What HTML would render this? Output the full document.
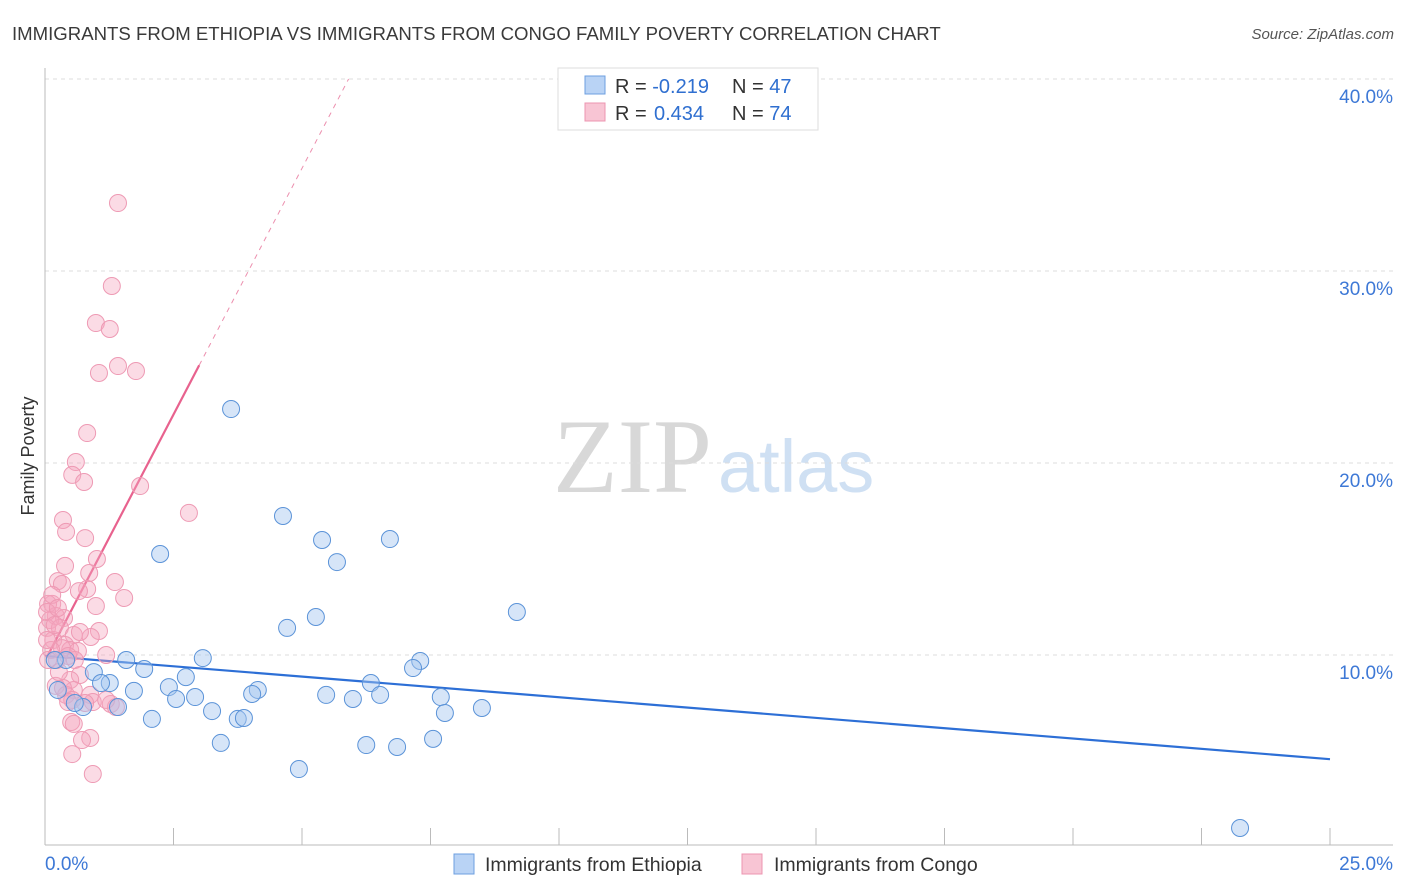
<!DOCTYPE html>
<html><head><meta charset="utf-8"><style>
body{margin:0;background:#fff;font-family:"Liberation Sans",sans-serif}
svg{display:block}
</style></head><body>
<svg id="c" width="1406" height="892" xmlns="http://www.w3.org/2000/svg">
<text x="12" y="40" font-size="18.6" fill="#3a3a3a">IMMIGRANTS FROM ETHIOPIA VS IMMIGRANTS FROM CONGO FAMILY POVERTY CORRELATION CHART</text>
<text x="1394" y="39" font-size="15" fill="#555" font-style="italic" text-anchor="end">Source: ZipAtlas.com</text>
<g><text x="553" y="492" font-family="Liberation Serif,serif" font-size="106" fill="#d8d8d8">ZIP</text><text x="718" y="492" font-size="74" fill="#cfe0f3">atlas</text></g>
<g id="grid"></g><g id="axes"></g><g id="lines"></g><g id="pts"></g>
<text transform="translate(34,456) rotate(-90)" font-size="18" fill="#333" text-anchor="middle">Family Poverty</text>
<g>
<rect x="558" y="68" width="260" height="62" fill="#fff" stroke="#ddd"/>
<rect x="585" y="76" width="20" height="18" fill="#b9d3f5" stroke="#6d9fe0"/>
<rect x="585" y="103" width="20" height="18" fill="#f8c5d4" stroke="#ec95b0"/>
<text x="615" y="93" font-size="20" fill="#333">R = <tspan fill="#2f6fd0">-0.219</tspan><tspan x="732">N = </tspan><tspan fill="#2f6fd0">47</tspan></text>
<text x="615" y="120" font-size="20" fill="#333">R = <tspan fill="#2f6fd0" x="654">0.434</tspan><tspan x="732">N = </tspan><tspan fill="#2f6fd0">74</tspan></text>
</g>
<g>
<rect x="454" y="854" width="20" height="20" fill="#b9d3f5" stroke="#6d9fe0"/>
<text x="485" y="871" font-size="19.5" fill="#333">Immigrants from Ethiopia</text>
<rect x="742" y="854" width="20" height="20" fill="#f8c5d4" stroke="#ec95b0"/>
<text x="774" y="871" font-size="19.5" fill="#333">Immigrants from Congo</text>
</g>
</svg>
<script>
const xTicks=[0,2.5,5,7.5,10,12.5,15,17.5,20,22.5,25];
const yTicks=[10,20,30,40];
const yTickLabels=["10.0%","20.0%","30.0%","40.0%"];
const xEndLabels=["0.0%","25.0%"];
const ethX=[3.62,4.63,5.39,6.71,5.68,2.24,9.18,4.71,5.27,1.58,3.07,1.93,0.95,2.74,2.41,1.26,1.09,1.73,2.55,2.92,4.14,4.03,5.47,5.99,6.34,6.52,7.30,7.16,7.70,7.78,8.50,3.25,2.08,3.75,3.87,3.42,4.94,6.25,6.85,7.55,23.25,0.25,0.74,1.42,0.58,0.41,0.19];
const ethY=[22.81,17.24,15.99,16.04,14.84,15.26,12.24,11.41,11.98,9.74,9.84,9.27,9.11,8.85,8.33,8.54,8.54,8.13,7.71,7.81,8.18,7.97,7.92,7.71,8.54,7.92,9.69,9.32,7.81,6.98,7.24,7.08,6.67,6.67,6.72,5.42,4.06,5.31,5.21,5.63,0.99,8.18,7.29,7.29,7.50,9.74,9.74];
const conX=[1.42,1.30,0.99,1.26,1.42,1.05,1.77,0.82,0.60,0.53,0.76,1.85,2.80,0.35,0.41,0.78,1.01,0.39,0.86,1.36,0.25,0.33,0.82,0.66,1.54,0.99,0.14,0.21,0.37,0.06,0.10,0.04,0.29,1.05,0.56,0.89,0.16,0.39,0.49,0.64,0.33,0.12,1.19,0.23,0.45,0.58,0.68,0.49,0.21,0.56,0.41,0.35,0.88,0.93,1.28,1.38,0.53,0.78,0.88,0.72,0.51,0.56,0.53,0.93,0.04,0.04,0.14,0.19,0.06,0.27,0.45,1.19,0.68,0.25];
const conY=[33.54,29.22,27.29,26.98,25.05,24.69,24.79,21.56,20.05,19.38,19.01,18.80,17.40,17.03,16.41,16.09,15.00,14.64,14.27,13.80,13.85,13.70,13.44,13.33,12.97,12.55,12.66,12.03,11.93,12.66,11.82,11.41,11.41,11.25,11.04,10.94,10.78,10.52,10.26,10.21,10.36,10.26,10.00,9.74,9.95,9.74,8.96,8.70,8.39,8.18,7.92,8.28,7.92,7.55,7.45,7.29,7.66,7.50,5.68,5.57,6.51,6.41,4.84,3.80,12.24,10.78,13.13,11.56,9.74,9.11,7.55,7.66,11.20,12.45];
const ethTrend=[9.95,-0.215];
const conTrend=[9.7,5.13];
const NS="http://www.w3.org/2000/svg";
const X=v=>45+v*51.4, Y=v=>847-v*19.2;
function mk(p,t,a){const e=document.createElementNS(NS,t);for(const k in a)e.setAttribute(k,a[k]);p.appendChild(e);return e;}
const G=document.getElementById('grid'),A=document.getElementById('axes'),L=document.getElementById('lines'),P=document.getElementById('pts');
yTicks.forEach((t,i)=>{
 const g=mk(G,'line',{x1:45,x2:1393,y1:Y(t),y2:Y(t),stroke:'#ddd','stroke-dasharray':'4,4'});
 
 
 const tx=mk(A,'text',{x:1393,y:Y(t)+24,'text-anchor':'end','font-size':19,fill:'#3d78d6'});tx.textContent=yTickLabels[i];
 
 
});
const ax=mk(A,'line',{x1:45,x2:45,y1:68,y2:845,stroke:'#bbb'});


const bx=mk(A,'line',{x1:45,x2:1393,y1:845,y2:845,stroke:'#bbb'});


xTicks.forEach(t=>{const k=mk(A,'line',{x1:X(t),x2:X(t),y1:828,y2:845,stroke:'#bbb'});
 
 });
[[0,'start',45],[25,'end',1393]].forEach((d,i)=>{const t=mk(A,'text',{x:d[2],y:870,'text-anchor':d[1],'font-size':19,fill:'#3d78d6'});t.textContent=xEndLabels[i];
 
 });
const bl=mk(L,'line',{x1:X(0),y1:Y(ethTrend[0]),x2:X(25),y2:Y(ethTrend[0]+25*ethTrend[1]),stroke:'#2d6fd6','stroke-width':2.2});


const xEnd=(40-conTrend[0])/conTrend[1];
const pd=mk(L,'line',{x1:X(3),y1:Y(conTrend[0]+3*conTrend[1]),x2:X(xEnd),y2:Y(40),stroke:'#ec8fae','stroke-width':1,'stroke-dasharray':'5,5'});


const pl=mk(L,'line',{x1:X(0.04),y1:Y(conTrend[0]+0.04*conTrend[1]),x2:X(3),y2:Y(conTrend[0]+3*conTrend[1]),stroke:'#e8628e','stroke-width':2.2});


conX.forEach((v,i)=>{const c=mk(P,'circle',{cx:X(v),cy:Y(conY[i]),r:8.5,fill:'rgba(245,165,190,0.4)',stroke:'#ee9ab4','stroke-width':1});
 
 });
ethX.forEach((v,i)=>{const c=mk(P,'circle',{cx:X(v),cy:Y(ethY[i]),r:8.5,fill:'rgba(165,198,240,0.45)',stroke:'#5b93d8','stroke-width':1});
 
 });
</script>
</body></html>
